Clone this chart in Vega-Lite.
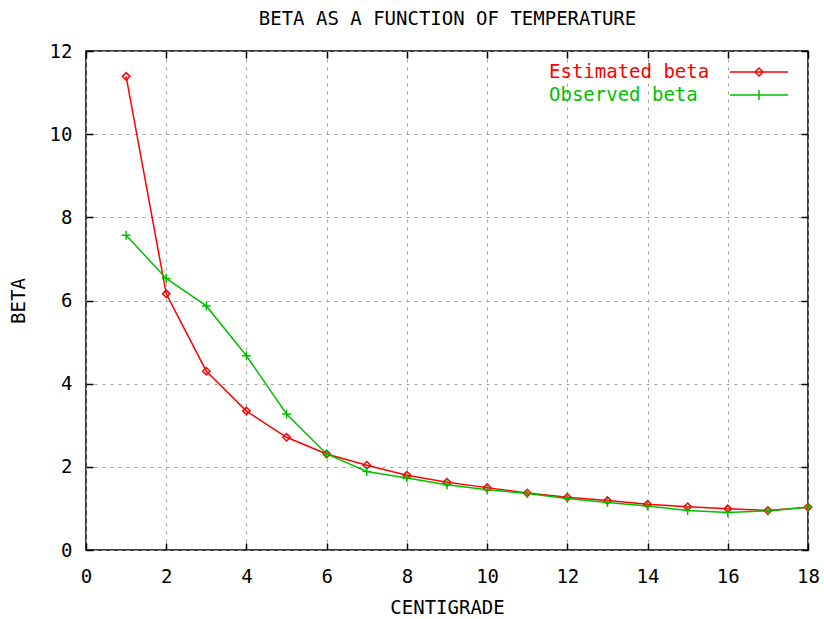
{
  "$schema": "https://vega.github.io/schema/vega-lite/v6.json",
  "autosize": "none",
  "width": 722,
  "height": 499,
  "padding": {"left": 86, "top": 51, "right": 16, "bottom": 69},
  "background": "white",
  "config": {
    "font": "DejaVu Sans Mono",
    "view": {"stroke": "#000000", "strokeWidth": 1.5},
    "axis": {
      "labelFont": "DejaVu Sans Mono",
      "labelFontSize": 19,
      "labelColor": "#000000",
      "labelFlush": false,
      "titleFont": "DejaVu Sans Mono",
      "titleFontSize": 19,
      "titleFontWeight": "normal",
      "titleColor": "#000000",
      "domain": false,
      "tickColor": "#000000",
      "tickWidth": 1.5,
      "tickSize": -7,
      "gridColor": "#a0a0a0",
      "gridDash": [3, 5],
      "gridWidth": 1,
      "gridOpacity": 1
    }
  },
  "data": {
    "values": [
      {"x": 1, "beta": 11.39, "series": "Estimated beta"},
      {"x": 2, "beta": 6.16, "series": "Estimated beta"},
      {"x": 3, "beta": 4.3, "series": "Estimated beta"},
      {"x": 4, "beta": 3.34, "series": "Estimated beta"},
      {"x": 5, "beta": 2.71, "series": "Estimated beta"},
      {"x": 6, "beta": 2.31, "series": "Estimated beta"},
      {"x": 7, "beta": 2.04, "series": "Estimated beta"},
      {"x": 8, "beta": 1.8, "series": "Estimated beta"},
      {"x": 9, "beta": 1.63, "series": "Estimated beta"},
      {"x": 10, "beta": 1.5, "series": "Estimated beta"},
      {"x": 11, "beta": 1.37, "series": "Estimated beta"},
      {"x": 12, "beta": 1.27, "series": "Estimated beta"},
      {"x": 13, "beta": 1.19, "series": "Estimated beta"},
      {"x": 14, "beta": 1.1, "series": "Estimated beta"},
      {"x": 15, "beta": 1.04, "series": "Estimated beta"},
      {"x": 16, "beta": 0.99, "series": "Estimated beta"},
      {"x": 17, "beta": 0.95, "series": "Estimated beta"},
      {"x": 18, "beta": 1.03, "series": "Estimated beta"},
      {"x": 1, "beta": 7.57, "series": "Observed beta"},
      {"x": 2, "beta": 6.53, "series": "Observed beta"},
      {"x": 3, "beta": 5.87, "series": "Observed beta"},
      {"x": 4, "beta": 4.67, "series": "Observed beta"},
      {"x": 5, "beta": 3.27, "series": "Observed beta"},
      {"x": 6, "beta": 2.31, "series": "Observed beta"},
      {"x": 7, "beta": 1.89, "series": "Observed beta"},
      {"x": 8, "beta": 1.73, "series": "Observed beta"},
      {"x": 9, "beta": 1.57, "series": "Observed beta"},
      {"x": 10, "beta": 1.45, "series": "Observed beta"},
      {"x": 11, "beta": 1.36, "series": "Observed beta"},
      {"x": 12, "beta": 1.24, "series": "Observed beta"},
      {"x": 13, "beta": 1.14, "series": "Observed beta"},
      {"x": 14, "beta": 1.06, "series": "Observed beta"},
      {"x": 15, "beta": 0.95, "series": "Observed beta"},
      {"x": 16, "beta": 0.9, "series": "Observed beta"},
      {"x": 17, "beta": 0.94, "series": "Observed beta"},
      {"x": 18, "beta": 1.03, "series": "Observed beta"}
    ]
  },
  "layer": [
    {
      "mark": {"type": "point", "opacity": 0},
      "encoding": {
        "x": {"field": "x", "type": "quantitative", "scale": {"domain": [0, 18], "nice": false},
              "axis": {"orient": "top", "labels": false, "grid": false, "values": [0,2,4,6,8,10,12,14,16,18],
                       "title": "BETA AS A FUNCTION OF TEMPERATURE", "titleY": -33, "titleBaseline": "middle"}},
        "y": {"field": "beta", "type": "quantitative", "scale": {"domain": [0, 12], "nice": false},
              "axis": {"orient": "right", "labels": false, "grid": false, "title": null, "values": [0,2,4,6,8,10,12]}}
      }
    },
    {
      "encoding": {
        "x": {"field": "x", "type": "quantitative", "scale": {"domain": [0, 18], "nice": false},
              "axis": {"orient": "bottom", "title": "CENTIGRADE", "values": [0,2,4,6,8,10,12,14,16,18], "grid": true,
                       "labelPadding": 24, "titleY": 57, "titleBaseline": "middle"}},
        "y": {"field": "beta", "type": "quantitative", "scale": {"domain": [0, 12], "nice": false},
              "axis": {"orient": "left", "title": "BETA", "values": [0,2,4,6,8,10,12], "grid": true,
                       "labelPadding": 21, "titleX": -68, "titleY": 249.5, "titleBaseline": "middle", "titleAngle": -90}},
        "color": {"field": "series", "type": "nominal",
                  "scale": {"domain": ["Estimated beta", "Observed beta"], "range": ["#ff0000", "#00c000"]},
                  "legend": {
                    "orient": "none", "legendX": 662, "legendY": 10, "title": null, "padding": 0,
                    "labelFont": "DejaVu Sans Mono", "labelFontSize": 19, "labelAlign": "left", "labelLimit": 400,
                    "labelOffset": -221, "rowPadding": 2, "symbolSize": 400, "symbolStrokeWidth": 1.5,
                    "symbolType": "M-2.9,0H2.9M0,-0.4L0.4,0L0,0.4L-0.4,0Z",
                    "encode": {
                      "symbols": {"update": {
                        "shape": [{"test": "datum.value === 'Estimated beta'", "value": "M-2.9,0H2.9M0,-0.4L0.4,0L0,0.4L-0.4,0Z"}, {"value": "M-2.9,0H2.9M0,-0.5V0.5"}],
                        "fill": {"value": "transparent"}
                      }},
                      "labels": {"update": {
                        "fill": [{"test": "datum.value === 'Estimated beta'", "value": "#ff0000"}, {"value": "#00c000"}]
                      }}
                    }
                  }}
      },
      "layer": [
        {
          "mark": {"type": "line", "strokeWidth": 1.5}
        },
        {
          "transform": [{"filter": "datum.series === 'Estimated beta'"}],
          "mark": {"type": "point", "shape": "diamond", "filled": false, "strokeWidth": 1.5, "opacity": 1, "size": 55}
        },
        {
          "transform": [{"filter": "datum.series === 'Observed beta'"}],
          "mark": {"type": "point", "shape": "M-1,0H1M0,-1V1", "filled": false, "strokeWidth": 1.5, "opacity": 1, "size": 80}
        }
      ]
    }
  ],
  "resolve": {"axis": {"x": "independent", "y": "independent"}}
}
